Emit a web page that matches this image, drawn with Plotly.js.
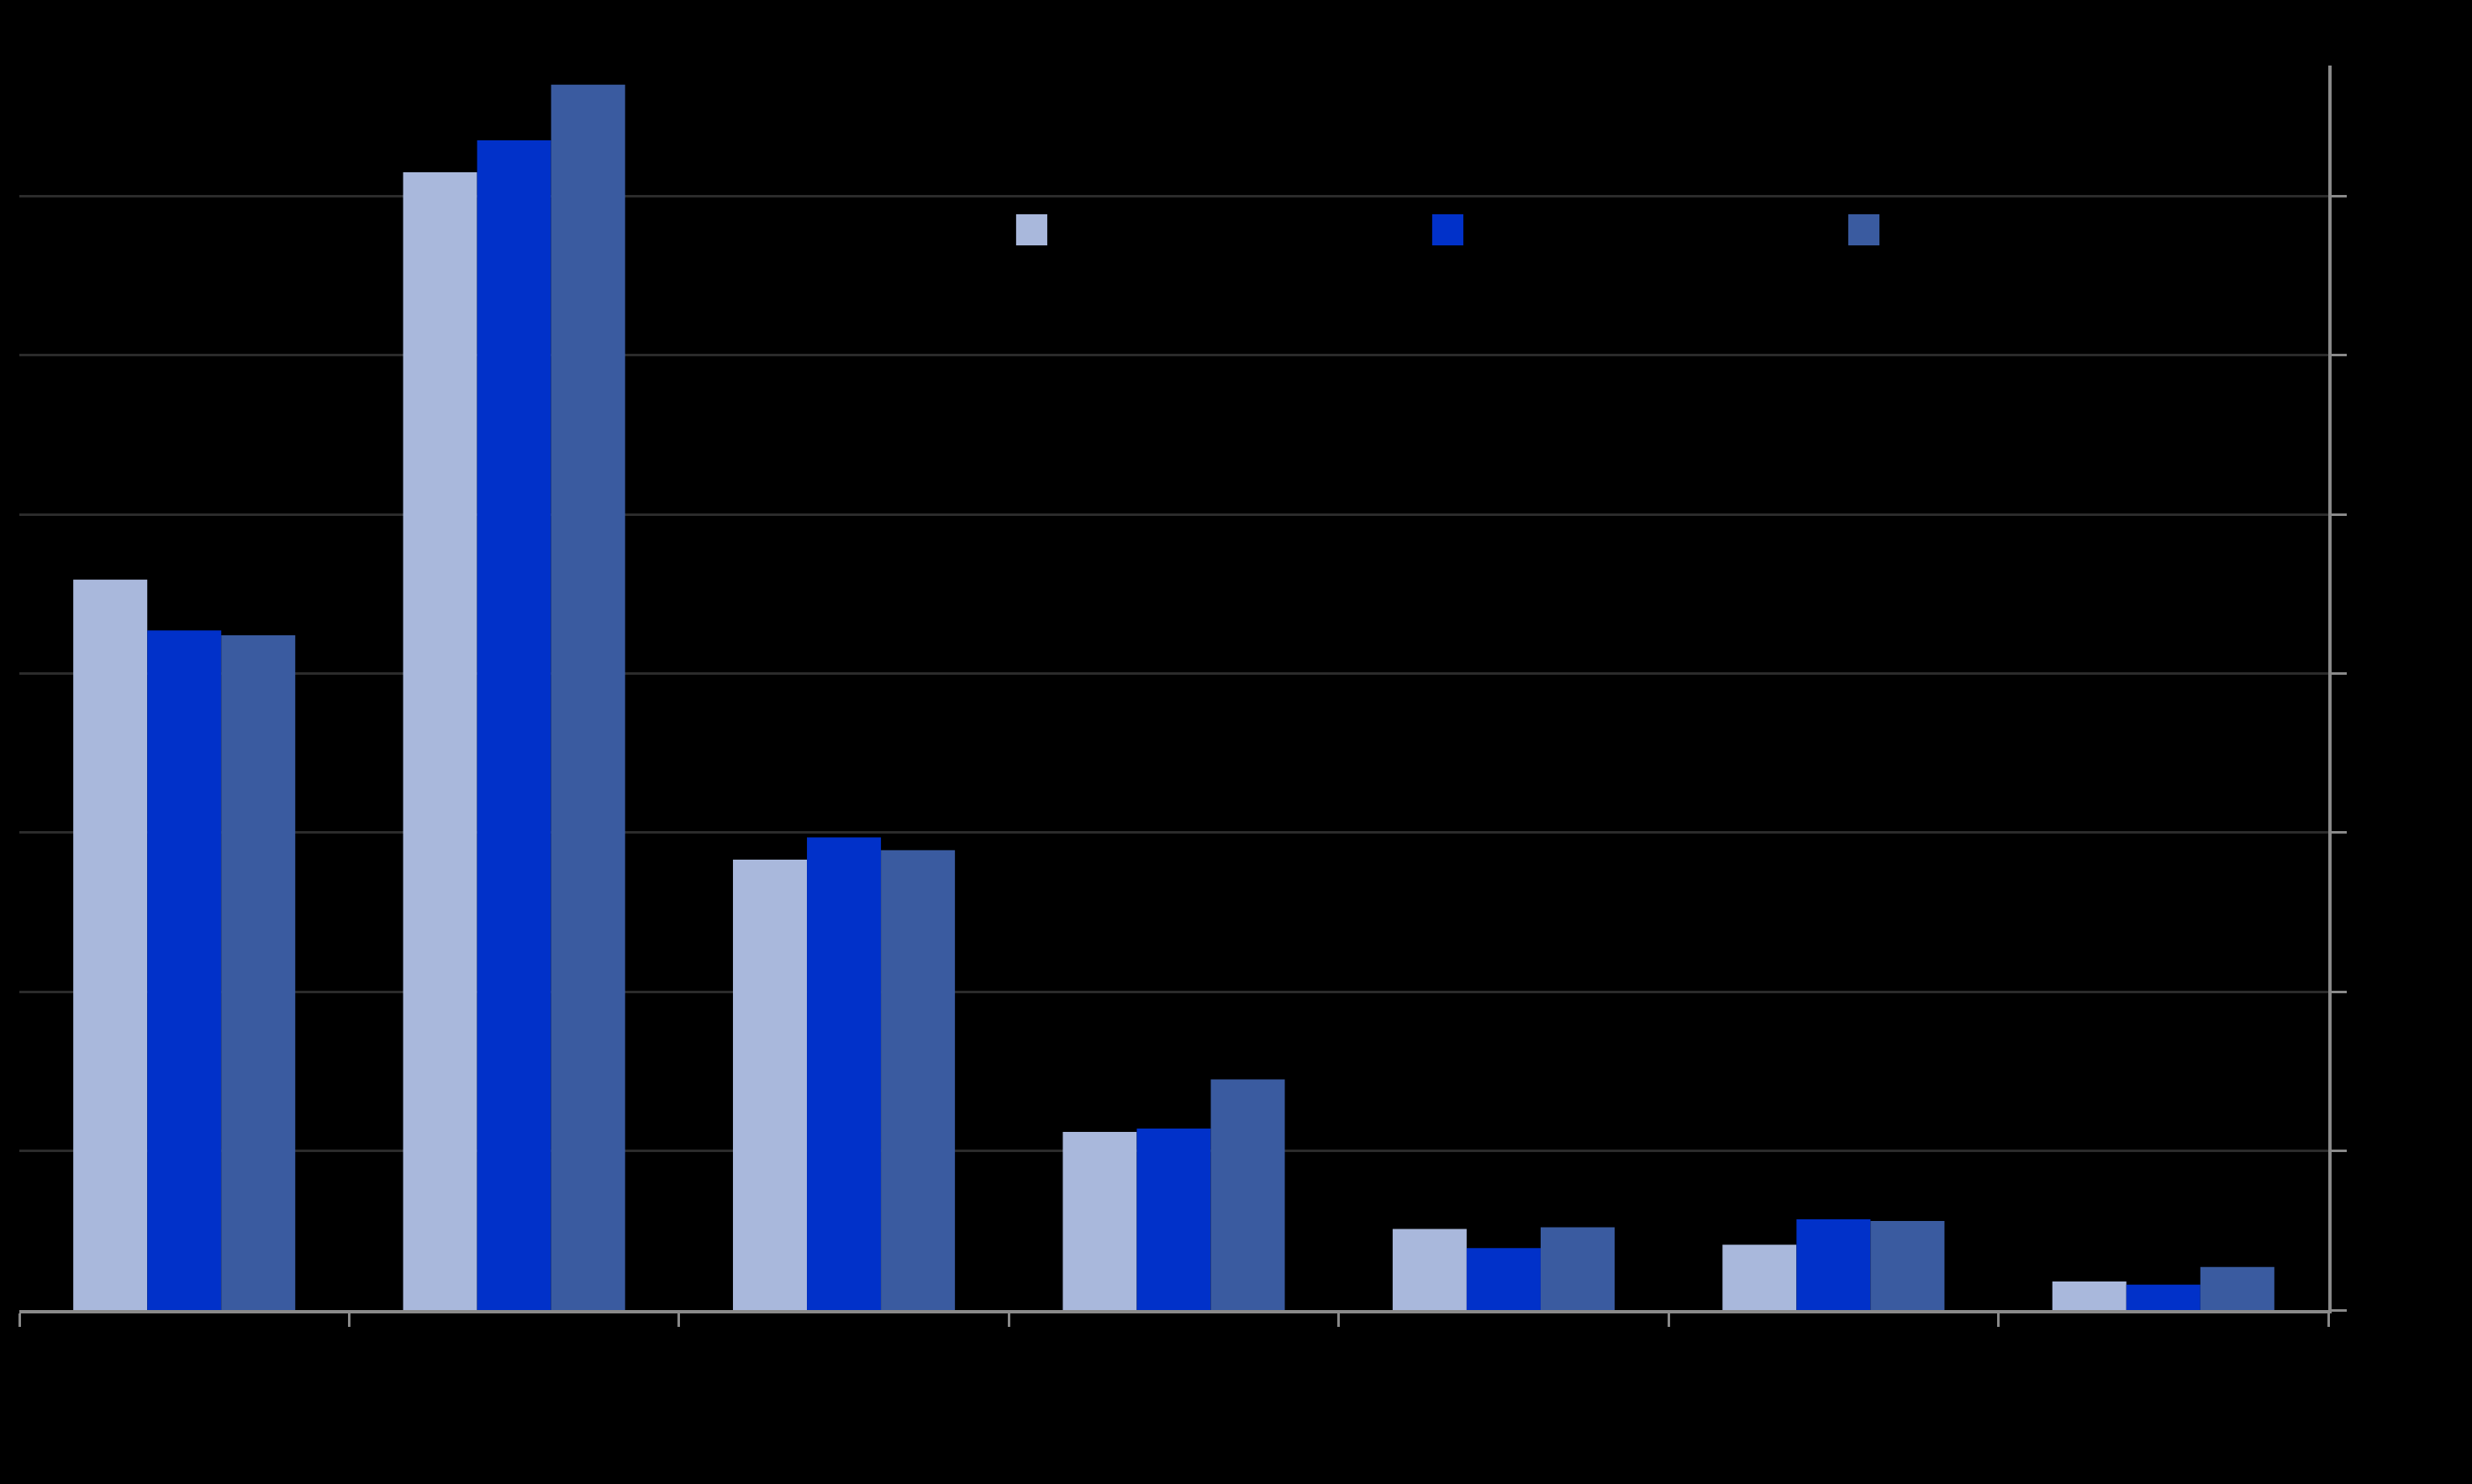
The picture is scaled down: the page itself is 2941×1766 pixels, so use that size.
<!DOCTYPE html>
<html>
<head>
<meta charset="utf-8">
<script src="https://cdn.plot.ly/plotly-3.0.1.min.js"></script>
<style>
  html, body { margin: 0; padding: 0; background: #000000; }
  #chart { width: 2941px; height: 1766px; }
</style>
</head>
<body>
<div id="chart"></div>
<script>
// Category labels (drawn in black on black in the reference, so unreadable)
const categories = ["Category A", "Category B", "Category C", "Category D", "Category E", "Category F", "Category G"];
const seriesNames = ["Series 1", "Series 2", "Series 3"];
const series1 = [45.9, 71.5, 28.3, 11.2, 5.1, 4.1, 1.8];
const series2 = [42.7, 73.5, 29.7, 11.4, 3.9, 5.7, 1.6];
const series3 = [42.4, 77.0, 28.9, 14.5, 5.2, 5.6, 2.7];
const seriesColors = ["#A9B8DC", "#0131C9", "#3A5BA0"];

const allSeries = [series1, series2, series3];
const traces = allSeries.map((vals, i) => ({
  type: "bar",
  name: seriesNames[i],
  x: categories,
  y: vals,
  marker: { color: seriesColors[i], line: { width: 0 } },
  showlegend: false,
  hoverinfo: "x+y+name"
}));

// Legend drawn as shapes + annotations (large square swatches)
const legendX = [0.4317, 0.6119, 0.7921];
const swW = 0.0135, swTop = 0.8805, swBot = 0.8555;
const shapes = legendX.map((lx, i) => ({
  type: "rect", xref: "paper", yref: "paper",
  x0: lx, x1: lx + swW, y0: swBot, y1: swTop,
  fillcolor: seriesColors[i], line: { width: 0 }, layer: "above"
}));
const annotations = legendX.map((lx, i) => ({
  xref: "paper", yref: "paper", x: lx + swW + 0.006, y: (swTop + swBot) / 2,
  xanchor: "left", yanchor: "middle", showarrow: false,
  text: seriesNames[i], font: { color: "#000000", size: 30, family: "Liberation Sans, Arial, sans-serif" }
}));

const layout = {
  width: 2941,
  height: 1766,
  paper_bgcolor: "#000000",
  plot_bgcolor: "#000000",
  margin: { l: 23, r: 171, t: 78, b: 207 },
  font: { family: "Liberation Sans, Arial, sans-serif", color: "#000000", size: 30 },
  barmode: "group",
  bargap: 0.327,
  bargroupgap: 0,
  showlegend: false,
  xaxis: {
    type: "category",
    showline: true, linecolor: "#8a8a8a", linewidth: 4,
    ticks: "outside", tickson: "boundaries", ticklen: 16, tickwidth: 3, tickcolor: "#8a8a8a",
    showgrid: false, zeroline: false,
    tickfont: { color: "#000000", size: 30 }
  },
  yaxis: {
    side: "right",
    range: [0, 78.2],
    dtick: 10, tick0: 0,
    showline: true, linecolor: "#8a8a8a", linewidth: 4,
    ticks: "outside", ticklen: 18, tickwidth: 3, tickcolor: "#8a8a8a",
    showgrid: true, gridcolor: "#2b2b2b", gridwidth: 3,
    zeroline: false,
    tickfont: { color: "#000000", size: 30 }
  },
  shapes: shapes,
  annotations: annotations
};

Plotly.newPlot("chart", traces, layout, { displayModeBar: false, staticPlot: true });
</script>
</body>
</html>
